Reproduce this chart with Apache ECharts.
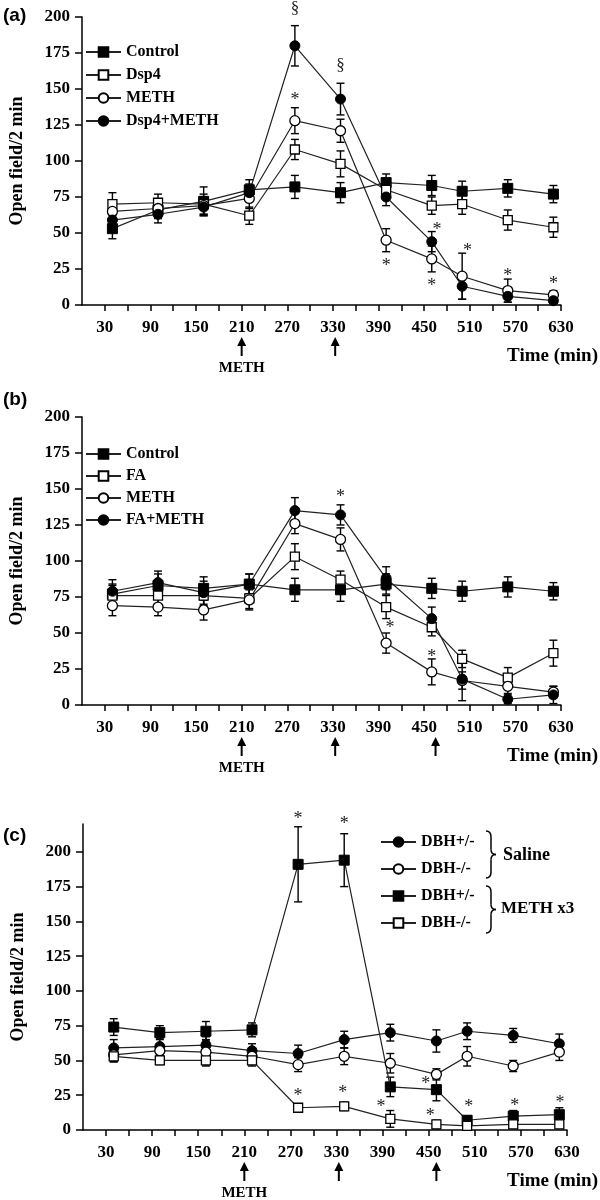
<!DOCTYPE html>
<html><head><meta charset="utf-8">
<script src="https://cdn.jsdelivr.net/npm/echarts@6/dist/echarts.min.js"></script>
<style>html,body{margin:0;padding:0;background:#fff}#c{width:600px;height:1200px}</style>
</head><body><div id="c"></div>
<script>
// ---------- shared axis data ----------
const times = [40, 100, 160, 220, 280, 340, 400, 460, 500, 560, 620];
const xLabelValues = [30, 90, 150, 210, 270, 330, 390, 450, 510, 570, 630];
const xTickValues = [30, 60, 90, 120, 150, 180, 210, 240, 270, 300, 330, 360, 390, 420, 450, 480, 510, 540, 570, 600, 630];
const yLabelValues = [0, 25, 50, 75, 100, 125, 150, 175, 200];

// ---------- panel (a) ----------
const aNames = ['Control', 'Dsp4', 'METH', 'Dsp4+METH'];
const aControl = [53, 66, 72, 80, 82, 78, 85, 83, 79, 81, 77];
const aControlErr = [7, 6, 10, 7, 8, 7, 6, 7, 7, 6, 6];
const aDsp4 = [70, 71, 70, 62, 108, 98, 80, 69, 70, 59, 54];
const aDsp4Err = [8, 6, 7, 6, 7, 9, 6, 6, 7, 7, 7];
const aMeth = [65, 67, 69, 74, 128, 121, 45, 32, 20, 10, 7];
const aMethErr = [7, 6, 6, 7, 9, 8, 8, 9, 16, 8, 3];
const aDspMeth = [59, 63, 68, 78, 180, 143, 75, 44, 13, 6, 3];
const aDspMethErr = [6, 6, 6, 6, 14, 11, 6, 7, 9, 4, 2];
const aAnnot = [[280, 206, '§'], [340, 166, '§'], [280, 145, '*'], [400, 30, '*'], [467, 55, '*'], [460, 16, '*'], [507, 40, '*'], [560, 23, '*'], [620, 17, '*']];
const aArrows = [210, 333];

// ---------- panel (b) ----------
const bNames = ['Control', 'FA', 'METH', 'FA+METH'];
const bControl = [77, 83, 81, 84, 80, 80, 84, 81, 79, 82, 79];
const bControlErr = [7, 8, 8, 7, 8, 8, 7, 7, 7, 7, 6];
const bFA = [76, 76, 76, 74, 103, 87, 68, 54, 32, 19, 36];
const bFAErr = [7, 7, 7, 7, 9, 6, 8, 6, 6, 7, 9];
const bMeth = [69, 68, 66, 73, 126, 115, 43, 23, 17, 13, 9];
const bMethErr = [7, 6, 7, 7, 7, 8, 7, 9, 6, 5, 4];
const bFAMeth = [79, 85, 78, 84, 135, 132, 88, 60, 18, 4, 7];
const bFAMethErr = [8, 8, 8, 7, 9, 7, 8, 8, 15, 3, 6];
const bAnnot = [[340, 147, '*'], [405, 56, '*'], [460, 36, '*']];
const bArrows = [210, 333, 465];

// ---------- panel (c) ----------
const cNames = ['DBH+/-', 'DBH-/-', 'DBH+/-', 'DBH-/-'];
const cGroups = ['Saline', 'METH x3'];
const cSalHet = [59, 60, 61, 57, 55, 65, 70, 64, 71, 68, 62];
const cSalHetErr = [6, 6, 6, 5, 6, 6, 6, 8, 6, 5, 7];
const cSalKo = [54, 57, 56, 53, 47, 53, 48, 40, 53, 46, 56];
const cSalKoErr = [5, 5, 9, 5, 5, 6, 7, 4, 7, 4, 6];
const cMethHet = [74, 70, 71, 72, 191, 194, 31, 29, 7, 10, 11];
const cMethHetErr = [6, 5, 7, 5, 27, 19, 7, 8, 3, 4, 5];
const cMethKo = [53, 50, 50, 50, 16, 17, 8, 4, 3, 4, 4];
const cMethKoErr = [4, 3, 4, 4, 2, 3, 6, 3, 2, 2, 2];
const cAnnot = [[280, 226, '*'], [340, 223, '*'], [280, 27, '*'], [338, 29, '*'], [388, 19, '*'], [452, 13, '*'], [446, 36, '*'], [502, 19, '*'], [562, 20, '*'], [621, 22, '*']];
const cArrows = [210, 333, 460];

// ---------- styling ----------
const SERIF = '"Liberation Serif", "Times New Roman", serif';
const MARK = {
  fs: { symbol: 'rect', symbolSize: 10, itemStyle: { color: '#000', borderColor: '#000', borderWidth: 1 } },
  os: { symbol: 'rect', symbolSize: 9, itemStyle: { color: '#fff', borderColor: '#000', borderWidth: 1.3 } },
  fc: { symbol: 'circle', symbolSize: 10, itemStyle: { color: '#000', borderColor: '#000', borderWidth: 1 } },
  oc: { symbol: 'circle', symbolSize: 10, itemStyle: { color: '#fff', borderColor: '#000', borderWidth: 1.3 } }
};
const grids = [
  { left: 78, width: 483, top: 17, height: 288 },
  { left: 78, width: 483, top: 417, height: 288 },
  { left: 83, width: 484, top: 824, height: 306 }
];
const yMax = [200, 200, 220];

function errRender(params, api) {
  const x = api.value(0), v = api.value(1), e = api.value(2);
  const t = api.coord([x, v + e]);
  const b = api.coord([x, Math.max(v - e, 0)]);
  const w = 4;
  const st = { stroke: '#000', lineWidth: 1.4 };
  return { type: 'group', children: [
    { type: 'line', shape: { x1: t[0], y1: t[1], x2: b[0], y2: b[1] }, style: st },
    { type: 'line', shape: { x1: t[0] - w, y1: t[1], x2: t[0] + w, y2: t[1] }, style: st },
    { type: 'line', shape: { x1: b[0] - w, y1: b[1], x2: b[0] + w, y2: b[1] }, style: st }
  ] };
}

const series = [];
function addSeries(idx, key, vals, errs, mk) {
  series.push({
    type: 'custom', xAxisIndex: idx, yAxisIndex: idx, silent: true, z: 3,
    data: times.map((t, k) => [t, vals[k], errs[k]]), renderItem: errRender, animation: false
  });
  series.push(Object.assign({
    type: 'line', name: key, xAxisIndex: idx, yAxisIndex: idx, z: 4, animation: false,
    showAllSymbol: true, emphasis: { disabled: true },
    lineStyle: { color: '#222', width: 1.2 },
    data: times.map((t, k) => [t, vals[k]])
  }, JSON.parse(JSON.stringify(MARK[mk]))));
}
function addAnnot(idx, ann) {
  series.push({
    type: 'custom', xAxisIndex: idx, yAxisIndex: idx, silent: true, z: 6, clip: false, animation: false,
    data: ann.map(a => [a[0], a[1]]),
    renderItem: function (p, api) {
      const pt = api.coord([api.value(0), api.value(1)]);
      const txt = ann[p.dataIndex][2];
      const isStar = txt === '*';
      return { type: 'text', x: pt[0], y: pt[1] + (isStar ? 4 : 0), style: {
        text: txt, font: (isStar ? '18px ' : '17px ') + SERIF, fill: '#222', align: 'center', verticalAlign: 'middle' } };
    }
  });
}

addSeries(0, 'a|' + aNames[0], aControl, aControlErr, 'fs');
addSeries(0, 'a|' + aNames[1], aDsp4, aDsp4Err, 'os');
addSeries(0, 'a|' + aNames[2], aMeth, aMethErr, 'oc');
addSeries(0, 'a|' + aNames[3], aDspMeth, aDspMethErr, 'fc');
addAnnot(0, aAnnot);
addSeries(1, 'b|' + bNames[0], bControl, bControlErr, 'fs');
addSeries(1, 'b|' + bNames[1], bFA, bFAErr, 'os');
addSeries(1, 'b|' + bNames[2], bMeth, bMethErr, 'oc');
addSeries(1, 'b|' + bNames[3], bFAMeth, bFAMethErr, 'fc');
addAnnot(1, bAnnot);
addSeries(2, 'c1|' + cNames[0], cSalHet, cSalHetErr, 'fc');
addSeries(2, 'c2|' + cNames[1], cSalKo, cSalKoErr, 'oc');
addSeries(2, 'c3|' + cNames[2], cMethHet, cMethHetErr, 'fs');
addSeries(2, 'c4|' + cNames[3], cMethKo, cMethKoErr, 'os');
addAnnot(2, cAnnot);

const xAxes = grids.map((g, i) => ({
  type: 'value', gridIndex: i, min: 0, max: 630,
  axisLine: { show: true, onZero: false, lineStyle: { color: '#000', width: 1.5 } },
  axisTick: { show: true, customValues: xTickValues, length: 6, lineStyle: { color: '#000', width: 1.5 } },
  axisLabel: { customValues: xLabelValues, margin: 14, color: '#000', fontFamily: SERIF, fontWeight: 'bold', fontSize: 17 },
  splitLine: { show: false }
}));
const yAxes = grids.map((g, i) => ({
  type: 'value', gridIndex: i, min: 0, max: yMax[i],
  name: 'Open field/2 min', nameLocation: 'middle', nameGap: 56,
  nameTextStyle: { color: '#000', fontFamily: SERIF, fontWeight: 'bold', fontSize: 18 },
  axisLine: { show: true, lineStyle: { color: '#000', width: 1.5 } },
  axisTick: { show: true, customValues: yLabelValues, length: 7, lineStyle: { color: '#000', width: 1.5 } },
  axisLabel: { customValues: yLabelValues, margin: 12, color: '#000', fontFamily: SERIF, fontWeight: 'bold', fontSize: 17 },
  splitLine: { show: false }
}));

function legendFor(prefixes, left, top, gap) {
  return {
    orient: 'vertical', left: left, top: top, itemWidth: 35, itemHeight: 12, itemGap: gap,
    selectedMode: false, padding: 0,
    data: prefixes,
    formatter: n => n.split('|')[1],
    textStyle: { color: '#000', fontFamily: SERIF, fontWeight: 'bold', fontSize: 16, lineHeight: 16 }
  };
}

const chart = echarts.init(document.getElementById('c'), null, { renderer: 'canvas' });
chart.setOption({
  animation: false,
  backgroundColor: '#fff',
  grid: grids,
  xAxis: xAxes,
  yAxis: yAxes,
  legend: [
    legendFor(aNames.map(n => 'a|' + n), 85, 44, 7),
    legendFor(bNames.map(n => 'b|' + n), 85, 446, 6),
    legendFor(['c1|' + cNames[0], 'c2|' + cNames[1], 'c3|' + cNames[2], 'c4|' + cNames[3]], 380, 834, 11)
  ],
  series: series
});

// ---------- annotations: arrows, labels, braces ----------
const g = [];
const TXT = (x, y, text, font, align, va) => ({ type: 'text', x: x, y: y, z: 10,
  style: { text: text, font: font, fill: '#000', align: align || 'left', verticalAlign: va || 'middle' } });
const panelArrows = [aArrows, bArrows, cArrows];
const panelTags = ['(a)', '(b)', '(c)'];
const tagY = [16, 400, 836];
panelArrows.forEach((arr, i) => {
  const axisY = chart.convertToPixel({ yAxisIndex: i }, 0);
  arr.forEach(t => {
    const x = chart.convertToPixel({ xAxisIndex: i }, t);
    const y0 = axisY + 32, y1 = axisY + 51;
    g.push({ type: 'line', z: 10, shape: { x1: x, y1: y0 + 6, x2: x, y2: y1 }, style: { stroke: '#000', lineWidth: 2 } });
    g.push({ type: 'polygon', z: 10, shape: { points: [[x - 4.5, y0 + 9], [x + 4.5, y0 + 9], [x, y0]] }, style: { fill: '#000' } });
  });
  const mx = chart.convertToPixel({ xAxisIndex: i }, arr[0]);
  g.push(TXT(mx, axisY + 63, 'METH', 'bold 15px ' + SERIF, 'center'));
  g.push(TXT(598, axisY + 51, 'Time (min)', 'bold 19px ' + SERIF, 'right'));
  g.push(TXT(3, tagY[i], panelTags[i], 'bold 19px "Liberation Sans", Arial, sans-serif', 'left'));
});
// braces for panel (c) legend groups
function brace(x, ya, yb) {
  const ym = (ya + yb) / 2, st = { stroke: '#000', lineWidth: 1.5, fill: null };
  const q = (x1, y1, cx, cy, x2, y2) => ({ type: 'bezierCurve', z: 10,
    shape: { x1: x1, y1: y1, cpx1: cx, cpy1: cy, x2: x2, y2: y2 }, style: st });
  const l = (x1, y1, x2, y2) => ({ type: 'line', z: 10, shape: { x1: x1, y1: y1, x2: x2, y2: y2 }, style: st });
  return [
    q(x, ya, x + 5, ya, x + 5, ya + 6),
    l(x + 5, ya + 6, x + 5, ym - 5),
    q(x + 5, ym - 5, x + 5, ym, x + 10, ym),
    q(x + 10, ym, x + 5, ym, x + 5, ym + 5),
    l(x + 5, ym + 5, x + 5, yb - 6),
    q(x + 5, yb - 6, x + 5, yb, x, yb)
  ];
}
brace(486, 831, 878).forEach(e => g.push(e));
brace(486, 886, 933).forEach(e => g.push(e));
g.push(TXT(503, 855, cGroups[0], 'bold 18px ' + SERIF, 'left'));
g.push(TXT(501, 909, cGroups[1], 'bold 17px ' + SERIF, 'left'));
chart.setOption({ graphic: g });
</script>
</body></html>
